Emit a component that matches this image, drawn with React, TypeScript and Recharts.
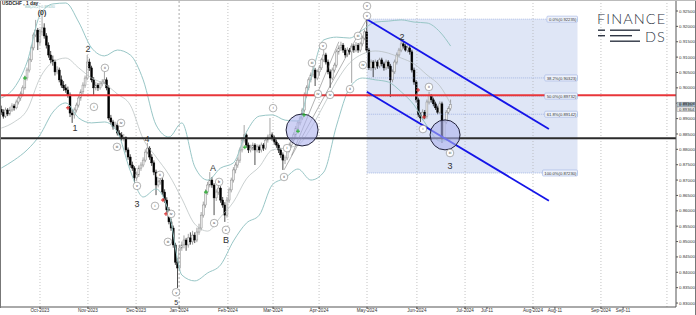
import React from "react";
import { ComposedChart, Bar, Line, XAxis, YAxis, ReferenceLine, ReferenceArea, ReferenceDot } from "recharts";

// ---- candles [open, high, low, close] by month ----
const sep2023 = [
  [0.8930, 0.8942, 0.8912, 0.8921], [0.8921, 0.8930, 0.8900, 0.8908], [0.8908, 0.8936, 0.8902, 0.8928],
  [0.8928, 0.8934, 0.8908, 0.8915], [0.8915, 0.8938, 0.8910, 0.8928], [0.8928, 0.8950, 0.8922, 0.8941],
  [0.8941, 0.8948, 0.8926, 0.8935], [0.8935, 0.8962, 0.8930, 0.8954], [0.8954, 0.8975, 0.8946, 0.8967],
  [0.8967, 0.8988, 0.8958, 0.8980], [0.8980, 0.9008, 0.8972, 0.9000], [0.9000, 0.9040, 0.8994, 0.9032],
  [0.9032, 0.9066, 0.9024, 0.9058], [0.9058, 0.9098, 0.9050, 0.9091], [0.9091, 0.9138, 0.9084, 0.9130],
  [0.9130, 0.9180, 0.9122, 0.9172], [0.9172, 0.9221, 0.9165, 0.9188], [0.9188, 0.9195, 0.9123, 0.9149],
];
const oct2023 = [
  [0.9149, 0.9192, 0.9140, 0.9182], [0.9182, 0.9240, 0.9170, 0.9195], [0.9195, 0.9210, 0.9160, 0.9169],
  [0.9169, 0.9178, 0.9128, 0.9139], [0.9139, 0.9148, 0.9098, 0.9107], [0.9107, 0.9120, 0.9080, 0.9091],
  [0.9091, 0.9105, 0.9072, 0.9084], [0.9084, 0.9092, 0.9040, 0.9052], [0.9052, 0.9070, 0.9044, 0.9058],
  [0.9058, 0.9066, 0.9018, 0.9026], [0.9026, 0.9040, 0.9000, 0.9009], [0.9009, 0.9022, 0.8990, 0.9000],
  [0.9000, 0.9012, 0.8984, 0.8993], [0.8993, 0.9004, 0.8968, 0.8977], [0.8977, 0.8985, 0.8905, 0.8918],
  [0.8918, 0.8930, 0.8886, 0.8912], [0.8912, 0.8936, 0.8900, 0.8928], [0.8928, 0.8952, 0.8920, 0.8944],
  [0.8944, 0.8975, 0.8936, 0.8967], [0.8967, 0.8995, 0.8958, 0.8987], [0.8987, 0.9018, 0.8980, 0.9009],
  [0.9009, 0.9040, 0.9000, 0.9032],
];
const nov2023 = [
  [0.9032, 0.9107, 0.9025, 0.9084], [0.9084, 0.9095, 0.9055, 0.9065], [0.9065, 0.9072, 0.9018, 0.9026],
  [0.9026, 0.9035, 0.8977, 0.9000], [0.9000, 0.9020, 0.8992, 0.9009], [0.9009, 0.9016, 0.8990, 0.9000],
  [0.9000, 0.9022, 0.8994, 0.9013], [0.9013, 0.9028, 0.9005, 0.9019], [0.9019, 0.9052, 0.9012, 0.9026],
  [0.9026, 0.9034, 0.8992, 0.9000], [0.9000, 0.9008, 0.8895, 0.8902], [0.8902, 0.8912, 0.8880, 0.8889],
  [0.8889, 0.8896, 0.8864, 0.8873], [0.8873, 0.8890, 0.8866, 0.8879], [0.8879, 0.8886, 0.8845, 0.8853],
  [0.8853, 0.8862, 0.8838, 0.8847], [0.8847, 0.8856, 0.8828, 0.8837], [0.8837, 0.8850, 0.8826, 0.8838],
  [0.8838, 0.8842, 0.8790, 0.8798], [0.8798, 0.8806, 0.8766, 0.8775], [0.8775, 0.8784, 0.8740, 0.8749],
  [0.8749, 0.8760, 0.8730, 0.8739],
];
const dec2023 = [
  [0.8739, 0.8745, 0.8690, 0.8707], [0.8707, 0.8726, 0.8698, 0.8717], [0.8717, 0.8748, 0.8710, 0.8739],
  [0.8739, 0.8758, 0.8730, 0.8749], [0.8749, 0.8774, 0.8742, 0.8765], [0.8765, 0.8800, 0.8758, 0.8791],
  [0.8791, 0.8821, 0.8784, 0.8804], [0.8804, 0.8810, 0.8766, 0.8775], [0.8775, 0.8784, 0.8746, 0.8756],
  [0.8756, 0.8764, 0.8716, 0.8726], [0.8726, 0.8734, 0.8651, 0.8684], [0.8684, 0.8702, 0.8676, 0.8694],
  [0.8694, 0.8713, 0.8685, 0.8700], [0.8700, 0.8706, 0.8652, 0.8661], [0.8661, 0.8670, 0.8626, 0.8635],
  [0.8635, 0.8644, 0.8594, 0.8603], [0.8603, 0.8612, 0.8556, 0.8564], [0.8564, 0.8575, 0.8535, 0.8544],
  [0.8544, 0.8552, 0.8480, 0.8489], [0.8489, 0.8496, 0.8424, 0.8433], [0.8433, 0.8445, 0.8349, 0.8414],
];
const jan2024 = [
  [0.8414, 0.8490, 0.8405, 0.8479], [0.8479, 0.8500, 0.8470, 0.8489], [0.8489, 0.8520, 0.8478, 0.8505],
  [0.8505, 0.8512, 0.8470, 0.8489], [0.8489, 0.8525, 0.8480, 0.8512], [0.8512, 0.8530, 0.8490, 0.8499],
  [0.8499, 0.8535, 0.8490, 0.8521], [0.8521, 0.8530, 0.8495, 0.8505], [0.8505, 0.8545, 0.8498, 0.8531],
  [0.8531, 0.8558, 0.8522, 0.8544], [0.8544, 0.8596, 0.8536, 0.8586], [0.8586, 0.8630, 0.8578, 0.8619],
  [0.8619, 0.8670, 0.8610, 0.8661], [0.8661, 0.8694, 0.8652, 0.8684], [0.8684, 0.8726, 0.8676, 0.8700],
  [0.8700, 0.8710, 0.8675, 0.8684], [0.8684, 0.8690, 0.8586, 0.8642], [0.8642, 0.8670, 0.8632, 0.8661],
  [0.8661, 0.8690, 0.8652, 0.8674], [0.8674, 0.8680, 0.8626, 0.8635], [0.8635, 0.8645, 0.8610, 0.8619],
  [0.8619, 0.8628, 0.8564, 0.8586], [0.8586, 0.8645, 0.8578, 0.8635],
];
const feb2024 = [
  [0.8635, 0.8676, 0.8626, 0.8668], [0.8668, 0.8708, 0.8660, 0.8700], [0.8700, 0.8742, 0.8692, 0.8733],
  [0.8733, 0.8758, 0.8722, 0.8749], [0.8749, 0.8774, 0.8740, 0.8765], [0.8765, 0.8806, 0.8756, 0.8798],
  [0.8798, 0.8840, 0.8790, 0.8830], [0.8830, 0.8879, 0.8822, 0.8847], [0.8847, 0.8852, 0.8806, 0.8814],
  [0.8814, 0.8822, 0.8788, 0.8798], [0.8798, 0.8815, 0.8790, 0.8804], [0.8804, 0.8822, 0.8796, 0.8814],
  [0.8814, 0.8820, 0.8749, 0.8798], [0.8798, 0.8816, 0.8790, 0.8808], [0.8808, 0.8815, 0.8788, 0.8798],
  [0.8798, 0.8822, 0.8790, 0.8814], [0.8814, 0.8820, 0.8795, 0.8804], [0.8804, 0.8838, 0.8798, 0.8830],
  [0.8830, 0.8848, 0.8822, 0.8840], [0.8840, 0.8902, 0.8832, 0.8847], [0.8847, 0.8855, 0.8828, 0.8837],
];
const mar2024 = [
  [0.8837, 0.8845, 0.8815, 0.8824], [0.8824, 0.8832, 0.8805, 0.8814], [0.8814, 0.8820, 0.8788, 0.8798],
  [0.8798, 0.8805, 0.8772, 0.8782], [0.8782, 0.8790, 0.8733, 0.8765], [0.8765, 0.8780, 0.8752, 0.8772],
  [0.8772, 0.8806, 0.8765, 0.8798], [0.8798, 0.8822, 0.8790, 0.8814], [0.8814, 0.8838, 0.8806, 0.8830],
  [0.8830, 0.8855, 0.8822, 0.8847], [0.8847, 0.8876, 0.8838, 0.8869], [0.8869, 0.8894, 0.8860, 0.8886],
  [0.8886, 0.8910, 0.8878, 0.8902], [0.8902, 0.8935, 0.8895, 0.8928], [0.8928, 0.8985, 0.8920, 0.8977],
  [0.8977, 0.9008, 0.8968, 0.9000], [0.9000, 0.9034, 0.8992, 0.9026], [0.9026, 0.9050, 0.9018, 0.9042],
  [0.9042, 0.9077, 0.9035, 0.9058], [0.9058, 0.9065, 0.9006, 0.9032], [0.9032, 0.9060, 0.9025, 0.9052],
];
const apr2024 = [
  [0.9052, 0.9074, 0.9040, 0.9065], [0.9065, 0.9098, 0.9058, 0.9091], [0.9091, 0.9123, 0.9084, 0.9107],
  [0.9107, 0.9114, 0.9076, 0.9084], [0.9084, 0.9092, 0.9044, 0.9052], [0.9052, 0.9060, 0.9000, 0.9032],
  [0.9032, 0.9066, 0.9025, 0.9058], [0.9058, 0.9082, 0.9050, 0.9074], [0.9074, 0.9125, 0.9066, 0.9117],
  [0.9117, 0.9138, 0.9108, 0.9130], [0.9130, 0.9150, 0.9120, 0.9139], [0.9139, 0.9146, 0.9114, 0.9123],
  [0.9123, 0.9130, 0.9098, 0.9107], [0.9107, 0.9132, 0.9100, 0.9123], [0.9123, 0.9130, 0.9108, 0.9117],
  [0.9117, 0.9145, 0.9016, 0.9136], [0.9136, 0.9142, 0.9114, 0.9123], [0.9123, 0.9149, 0.9116, 0.9139],
  [0.9139, 0.9146, 0.9114, 0.9123], [0.9123, 0.9150, 0.9116, 0.9143], [0.9143, 0.9170, 0.9135, 0.9162],
  [0.9162, 0.9190, 0.9155, 0.9182],
];
const may2024 = [
  [0.9182, 0.9224, 0.9115, 0.9123], [0.9123, 0.9130, 0.9058, 0.9065], [0.9065, 0.9092, 0.9056, 0.9084],
  [0.9084, 0.9090, 0.9035, 0.9065], [0.9065, 0.9092, 0.9058, 0.9084], [0.9084, 0.9090, 0.9062, 0.9071],
  [0.9071, 0.9098, 0.9064, 0.9091], [0.9091, 0.9098, 0.9070, 0.9078], [0.9078, 0.9085, 0.9056, 0.9065],
  [0.9065, 0.9092, 0.9058, 0.9084], [0.9084, 0.9090, 0.9062, 0.9071], [0.9071, 0.9078, 0.8970, 0.9026],
  [0.9026, 0.9060, 0.9018, 0.9052], [0.9052, 0.9092, 0.9045, 0.9084], [0.9084, 0.9115, 0.9076, 0.9107],
  [0.9107, 0.9130, 0.9100, 0.9123], [0.9123, 0.9162, 0.9116, 0.9143], [0.9143, 0.9150, 0.9128, 0.9136],
  [0.9136, 0.9142, 0.9118, 0.9123], [0.9123, 0.9138, 0.9115, 0.9130], [0.9130, 0.9136, 0.9108, 0.9117],
  [0.9117, 0.9124, 0.9050, 0.9058],
];
const jun2024 = [
  [0.9058, 0.9066, 0.9010, 0.9019], [0.9019, 0.9025, 0.8952, 0.8961], [0.8961, 0.8968, 0.8905, 0.8912],
  [0.8912, 0.8920, 0.8889, 0.8902], [0.8902, 0.8930, 0.8895, 0.8921], [0.8921, 0.8928, 0.8898, 0.8908],
  [0.8908, 0.8962, 0.8900, 0.8954], [0.8954, 0.8987, 0.8946, 0.8974], [0.8974, 0.8980, 0.8952, 0.8961],
  [0.8961, 0.8968, 0.8940, 0.8948], [0.8948, 0.8955, 0.8928, 0.8935], [0.8935, 0.8942, 0.8914, 0.8921],
  [0.8921, 0.8956, 0.8915, 0.8948], [0.8948, 0.8955, 0.8821, 0.8837], [0.8837, 0.8896, 0.8830, 0.8889],
  [0.8889, 0.8928, 0.8882, 0.8921], [0.8921, 0.8940, 0.8914, 0.8932], [0.8932, 0.8962, 0.8926, 0.8946],
];
const firstIndex = -18;

// ---- Bollinger Bands (20,2) ----
const bbIdx = [-18, -12, -6, 0, 6, 12, 18, 24, 30, 36, 42, 48, 54, 60, 66, 72, 78, 84, 90, 96, 102, 108, 114, 120, 126, 132, 138, 144, 150, 156, 162, 168, 174, 180, 186, 191];
const bbUpper = [0.8967, 0.9000, 0.9084, 0.9237, 0.9273, 0.9276, 0.9214, 0.9130, 0.9104, 0.9123, 0.9107, 0.9026, 0.8879, 0.8840, 0.8886, 0.8743, 0.8700, 0.8739, 0.8756, 0.8856, 0.8908, 0.8912, 0.8895, 0.8892, 0.9032, 0.9156, 0.9165, 0.9162, 0.9188, 0.9214, 0.9217, 0.9221, 0.9214, 0.9211, 0.9182, 0.9136];
const bbMiddle = [0.8869, 0.8889, 0.8928, 0.9032, 0.9084, 0.9097, 0.9065, 0.9032, 0.9013, 0.8980, 0.8944, 0.8834, 0.8775, 0.8717, 0.8639, 0.8557, 0.8534, 0.8580, 0.8629, 0.8704, 0.8743, 0.8798, 0.8804, 0.8814, 0.8869, 0.8944, 0.9022, 0.9081, 0.9110, 0.9120, 0.9113, 0.9097, 0.9078, 0.9042, 0.9006, 0.8948];
const bbLower = [0.8739, 0.8765, 0.8798, 0.8847, 0.8921, 0.8951, 0.8902, 0.8886, 0.8889, 0.8856, 0.8730, 0.8645, 0.8671, 0.8593, 0.8391, 0.8372, 0.8398, 0.8424, 0.8502, 0.8560, 0.8586, 0.8684, 0.8707, 0.8736, 0.8700, 0.8726, 0.8879, 0.9000, 0.9032, 0.9026, 0.9019, 0.8987, 0.8944, 0.8876, 0.8827, 0.8830];

// ---- axes ----
const yTicks = [0.83, 0.835, 0.84, 0.845, 0.85, 0.855, 0.86, 0.865, 0.87, 0.875, 0.88, 0.885, 0.89, 0.895, 0.9, 0.905, 0.91, 0.915, 0.92, 0.925];
const xTickIdx = [0, 22.3, 44.7, 64.7, 87.4, 108.4, 129.8, 152.1, 175.3, 197.7, 207.9, 229.3, 239.5, 260.9, 271.2];
const xTickLabels = ["Oct-2023", "Nov-2023", "Dec-2023", "Jan-2024", "Feb-2024", "Mar-2024", "Apr-2024", "May-2024", "Jun-2024", "Jul-2024", "Jul-11", "Aug-2024", "Aug-11", "Sep-2024", "Sep-11"];
const gridIdx = [0, 22.3, 44.7, 64.7, 87.4, 108.4, 129.8, 152.1, 175.3, 197.7, 229.3, 260.9, 291.6];
const xDomain = [-18.6, 295.81];
const yDomain = [0.82871, 0.92858];

// ---- drawn levels ----
const redLevel = 0.8976;
const blackLevel = 0.8836;
const fibStart = 152;
const fibEnd = 250;
const fibLevels = [0.92235, 0.90323, 0.89732, 0.89142, 0.8723];
const fibNames = ["0.0%(0.92235)", "38.2%(0.90323)", "50.0%(0.89732)", "61.8%(0.89142)", "100.0%(0.87230)"];
const channelUpper = [[152, 0.9223], [236.7, 0.8866]];
const channelLower = [[152, 0.8987], [236.7, 0.8633]];
const thinLines = [
  [[113.5, 0.8733], [152, 0.9224]],
  [[117, 0.8780], [139, 0.9150]],
];
const circles = [[121.9, 0.8863, 16], [188.4, 0.8847, 15]];
const priceTags = [[0.89457, "0.89457", "#b9cde0"], [0.8930, "0.89364", "#f4f4f4"]];

// ---- wave labels ----
const plainLabels = [
  [0.93, 0.9245, "(0)"], [16.3, 0.8869, "1"], [22.3, 0.9126, "2"], [45.1, 0.8622, "3"], [49.8, 0.8834, "4"],
  [63.3, 0.8303, "5"], [80.5, 0.8739, "A"], [86.5, 0.8505, "B"], [168.4, 0.9165, "2"], [190.7, 0.8746, "3"],
];
const circledLabels = [
  [25.1, 0.8938, "i"], [30.2, 0.9065, "ii"], [35.8, 0.8808, "iii"], [37.7, 0.8886, "iv"], [45.1, 0.8681, "v"],
  [53.5, 0.8616, "i"], [55.8, 0.8717, "ii"], [59.5, 0.8499, "iii"], [61, 0.859, "iv"], [63.3, 0.8335, "v"],
  [81, 0.856, "a"], [83.3, 0.8694, "b"], [86.5, 0.8538, "c"],
  [108.4, 0.8934, "i"], [114.9, 0.8804, "i"], [113.5, 0.871, "ii"], [126.5, 0.9081, "iii"], [129.3, 0.898, "iv"],
  [131.6, 0.9136, "v"], [134.9, 0.8977, "iv"], [144.2, 0.8996, "ii"], [147.9, 0.9169, "iii"], [150.2, 0.9074, "iv"],
  [152.1, 0.9234, "v"], [152.1, 0.9266, "v"], [178.1, 0.8866, "i"], [180.9, 0.9003, "ii"], [190.7, 0.8788, "iii"],
];
const signals = [
  [-7, 0.9032, "g"], [77.2, 0.8661, "g"], [95.3, 0.8807, "g"], [120, 0.8859, "g"], [122.8, 0.8912, "g"],
  [13, 0.8935, "r"], [57.2, 0.8635, "r"], [58.6, 0.8590, "r"], [175.8, 0.8993, "r"], [178.6, 0.8905, "r"],
];

const months = [sep2023, oct2023, nov2023, dec2023, jan2024, feb2024, mar2024, apr2024, may2024, jun2024];
const candles = months.flat().map((k, n) => ({ i: firstIndex + n, o: k[0], h: k[1], l: k[2], c: k[3] }));
const bbRows = bbIdx.map((i, n) => ({ i, u: bbUpper[n], m: bbMiddle[n], lo: bbLower[n] }));

const Candle = (props: any) => {
  const { x, y, width, height, payload } = props;
  if (!payload || height == null) return null;
  const { o, h, l, c } = payload;
  const cx = x + width / 2;
  const k = height / (h - l);
  const yo = y + (h - o) * k;
  const yc = y + (h - c) * k;
  const up = c >= o;
  const top = Math.min(yo, yc);
  const bh = Math.max(Math.abs(yc - yo), 0.7);
  const col = up ? "#808080" : "#000";
  return (
    <g>
      <line x1={cx} x2={cx} y1={y} y2={y + height} stroke={col} strokeWidth={0.7} />
      <rect x={cx - 0.95} y={top} width={1.9} height={bh} fill={up ? "#ededed" : "#000"} stroke={col} strokeWidth={0.45} />
    </g>
  );
};

const fontUI = "'Liberation Sans', Arial, sans-serif";

export default function App() {
  return (
    <div style={{ position: "absolute", left: 0, top: 0, width: 696, height: 315, background: "#fff", overflow: "hidden" }}>
      <ComposedChart width={696} height={315} data={candles} margin={{ top: 0, right: 0, bottom: 0, left: 0 }}>
        <XAxis
          dataKey="i"
          type="number"
          domain={xDomain}
          allowDataOverflow
          ticks={xTickIdx}
          interval={0}
          tickFormatter={(v: number) => xTickLabels[xTickIdx.indexOf(v)] ?? ""}
          height={8}
          tickSize={2}
          tickMargin={0}
          tick={{ fontSize: 4.6, fill: "#333", fontFamily: fontUI }}
          axisLine={{ stroke: "#555" }}
          tickLine={{ stroke: "#555" }}
        />
        <YAxis
          orientation="right"
          type="number"
          domain={yDomain}
          allowDataOverflow
          ticks={yTicks}
          interval={0}
          width={20}
          tickSize={2}
          tickMargin={1}
          tickFormatter={(v: number) => v.toFixed(5)}
          tick={{ fontSize: 4.4, fill: "#333", fontFamily: fontUI }}
          axisLine={{ stroke: "#555" }}
          tickLine={{ stroke: "#555" }}
        />
        <ReferenceArea x1={fibStart} x2={fibEnd} y1={fibLevels[4]} y2={fibLevels[0]} fill="#dfe6f6" fillOpacity={1} stroke="none" />
        {gridIdx.map((g, n) => (
          <ReferenceLine key={"g" + n} x={g} stroke={n === 3 ? "#888" : "#aaa"} strokeWidth={0.7} strokeDasharray={n === 3 ? "2 2" : "1 2"} />
        ))}
        {fibLevels.map((v, n) => (
          <ReferenceLine key={"f" + n} segment={[{ x: fibStart, y: v }, { x: fibEnd, y: v }]} stroke="#7d97d8" strokeWidth={0.6} strokeDasharray="1 1" />
        ))}
        <Line data={bbRows} dataKey="u" type="monotone" stroke="#98c6c6" strokeWidth={1} dot={false} isAnimationActive={false} />
        <Line data={bbRows} dataKey="m" type="monotone" stroke="#b3bcbc" strokeWidth={0.7} dot={false} isAnimationActive={false} />
        <Line data={bbRows} dataKey="lo" type="monotone" stroke="#98c6c6" strokeWidth={1} dot={false} isAnimationActive={false} />
        <ReferenceLine y={redLevel} stroke="#e8363a" strokeWidth={1.8} />
        <ReferenceLine y={blackLevel} stroke="#2b2b2b" strokeWidth={1.8} />
        <Bar dataKey={(d: any) => [d.l, d.h]} barSize={2} shape={Candle} isAnimationActive={false} />
        {thinLines.map((s, n) => (
          <ReferenceLine key={"t" + n} segment={[{ x: s[0][0], y: s[0][1] }, { x: s[1][0], y: s[1][1] }]} stroke="#666" strokeWidth={0.5} />
        ))}
        <ReferenceLine segment={[{ x: channelUpper[0][0], y: channelUpper[0][1] }, { x: channelUpper[1][0], y: channelUpper[1][1] }]} stroke="#1515e8" strokeWidth={1.8} />
        <ReferenceLine segment={[{ x: channelLower[0][0], y: channelLower[0][1] }, { x: channelLower[1][0], y: channelLower[1][1] }]} stroke="#1515e8" strokeWidth={1.8} />
        {circles.map((c, n) => (
          <ReferenceDot key={"c" + n} x={c[0]} y={c[1]} r={c[2]}
            shape={(p: any) => <circle cx={p.cx} cy={p.cy} r={c[2]} fill="#aeb3ee" fillOpacity={0.6} stroke="#22223a" strokeWidth={1} />} />
        ))}
        {fibLevels.map((v, n) => (
          <ReferenceDot key={"fl" + n} x={fibEnd} y={v} r={1}
            shape={(p: any) => {
              const w = fibNames[n].length * 2.2 + 2;
              return (
                <g>
                  <rect x={p.cx - w} y={p.cy - 3} width={w} height={6} rx={1} fill="#eef2fb" stroke="#8fa5dc" strokeWidth={0.5} />
                  <text x={p.cx - 1} y={p.cy + 1.6} textAnchor="end" fontSize={4.2} fill="#333" fontFamily={fontUI}>{fibNames[n]}</text>
                </g>
              );
            }} />
        ))}
        {signals.map((s, n) => (
          <ReferenceDot key={"s" + n} x={s[0] as number} y={s[1] as number} r={1}
            shape={(p: any) => {
              const col = s[2] === "g" ? "#22b02a" : "#d42020";
              return (
                <g stroke={col} strokeWidth={1}>
                  <line x1={p.cx - 2} x2={p.cx + 2} y1={p.cy} y2={p.cy} />
                  <line x1={p.cx} x2={p.cx} y1={p.cy - 2} y2={p.cy + 2} />
                </g>
              );
            }} />
        ))}
        {circledLabels.map((s, n) => (
          <ReferenceDot key={"cl" + n} x={s[0] as number} y={s[1] as number} r={1}
            shape={(p: any) => (
              <g>
                <circle cx={p.cx} cy={p.cy} r={3.8} fill="#fff" stroke="#666" strokeWidth={0.5} />
                <text x={p.cx} y={p.cy + 1.3} textAnchor="middle" fontSize={3.8} fill="#333" fontFamily={fontUI}>{s[2]}</text>
              </g>
            )} />
        ))}
        {plainLabels.map((s, n) => (
          <ReferenceDot key={"pl" + n} x={s[0] as number} y={s[1] as number} r={1}
            shape={(p: any) => (
              <text x={p.cx} y={p.cy + (s[2] === "(0)" ? 2.5 : 3)} textAnchor="middle" fontSize={s[2] === "5" ? 7 : s[2] === "(0)" ? 7 : 9} fontWeight={s[2] === "(0)" ? 700 : 400} fill="#333" fontFamily={fontUI}>{s[2]}</text>
            )} />
        ))}
        {priceTags.map((t, n) => (
          <ReferenceDot key={"pt" + n} x={xDomain[1]} y={t[0] as number} r={1} ifOverflow="visible"
            shape={(p: any) => (
              <g>
                <rect x={p.cx + 1} y={p.cy - 2.4} width={18} height={4.8} fill={t[2] as string} stroke="#777" strokeWidth={0.4} />
                <text x={p.cx + 3} y={p.cy + 1.5} fontSize={4.2} fill="#222" fontFamily={fontUI}>{t[1]}</text>
              </g>
            )} />
        ))}
      </ComposedChart>
      <div style={{ position: "absolute", left: 2, top: 0.5, fontFamily: fontUI, fontSize: 4.8, fontWeight: 700, color: "#222", whiteSpace: "nowrap", lineHeight: "5px" }}>USDCHF , 1 day</div>
      <div style={{ position: "absolute", left: 25, top: 5, fontFamily: fontUI, fontSize: 3.8, color: "#8cc0c0", whiteSpace: "nowrap", lineHeight: "4px" }}>BB(20,2) 0.89430</div>
      <div style={{ position: "absolute", left: 597, top: 13, fontFamily: "Lato, sans-serif", fontWeight: 300, fontSize: 14.5, letterSpacing: 1.1, color: "#2f3644", lineHeight: "12px", whiteSpace: "nowrap" }}>FINANCE</div>
      <svg style={{ position: "absolute", left: 596, top: 28 }} width={70} height={16}>
        <g fill="#2f3644">
          <rect x={2} y={1.5} width={7} height={1.4} />
          <rect x={2} y={7} width={7} height={1.4} />
          <rect x={14} y={1.5} width={30} height={1.4} />
          <rect x={14} y={7} width={22} height={1.4} />
          <rect x={14} y={12.5} width={30} height={1.4} />
        </g>
      </svg>
      <div style={{ position: "absolute", left: 645, top: 31, fontFamily: "Lato, sans-serif", fontWeight: 300, fontSize: 14.5, letterSpacing: 1.1, color: "#2f3644", lineHeight: "12px" }}>DS</div>
      <div style={{ position: "absolute", left: 0, top: 0, width: 1, height: 308, background: "#777" }} />
      <div style={{ position: "absolute", left: 695, top: 0, width: 1, height: 315, background: "#777" }} />
      <div style={{ position: "absolute", left: 0, top: 0, width: 696, height: 1, background: "#bbb" }} />
    </div>
  );
}
